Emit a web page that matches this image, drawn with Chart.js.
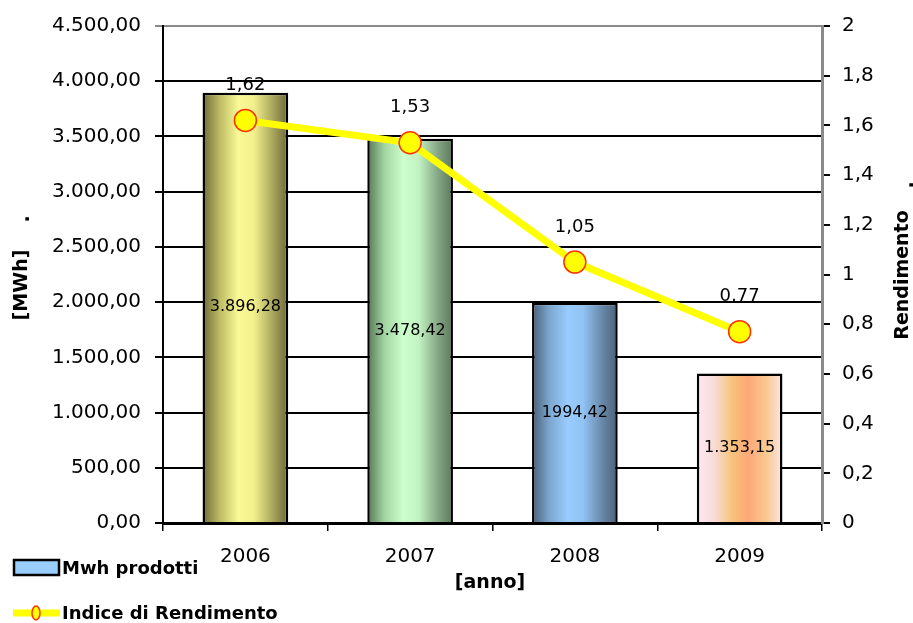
<!DOCTYPE html>
<html lang="it">
<head>
<meta charset="UTF-8">
<title>Mwh prodotti</title>
<script src="https://cdn.jsdelivr.net/npm/chart.js@4.4.0/dist/chart.umd.min.js"></script>
<style>
  body { margin: 0; background: #fff; }
</style>
</head>
<body>
<div style="width: 913px; height: 623px">
    <canvas id="chart" width="913" height="623"></canvas>
</div>
<script>
    const anni = ['2006', '2007', '2008', '2009'];
    const mwhProdotti = [3896.28, 3478.42, 1994.42, 1353.15];
    const etichetteMwh = ['3.896,28', '3.478,42', '1994,42', '1.353,15'];
    const indiceRendimento = [1.62, 1.53, 1.05, 0.77];

    // colori sfumati delle barre (bordo scuro, centro chiaro)
    const sfumature = [
        ['#6f6a38', '#bdbb64', '#fafa96', '#f2f08c', '#a9a65c', '#6c6838'],
        ['#587558', '#a2d4a2', '#ccffcc', '#c2f2c2', '#86a886', '#5a765a'],
        ['#485e76', '#7ca6ce', '#99ccff', '#90c2f2', '#6888a8', '#4a6078'],
        ['#fde8f2', '#f9dcd8', '#f6c27a', '#fca878', '#f8ca92', '#fde6e6']
    ];
    const stops = [0, 0.2, 0.42, 0.6, 0.82, 1];
    const BAR_PCT = 0.52;

    const FONT = "'DejaVu Sans', Arial, sans-serif";

    function fmtMigliaia(v) {
        const parts = v.toFixed(2).split('.');
        parts[0] = parts[0].replace(/\B(?=(\d{3})+(?!\d))/g, '.');
        return parts[0] + ',' + parts[1];
    }

    function sfumaBarra(c) {
        const chart = c.chart;
        const xs = chart.scales.x;
        if (!xs || !chart.chartArea || c.dataIndex === undefined) return '#99ccff';
        const cx = xs.getPixelForValue(c.dataIndex);
        const w = (xs.width / anni.length) * BAR_PCT;
        const g = chart.ctx.createLinearGradient(cx - w / 2, 0, cx + w / 2, 0);
        sfumature[c.dataIndex].forEach((col, k) => g.addColorStop(stops[k], col));
        return g;
    }

    const extra = {
        id: 'extra',
        afterDatasetsDraw(chart) {
            const ctx = chart.ctx;
            ctx.save();
            ctx.fillStyle = '#000';
            ctx.textAlign = 'center';
            ctx.textBaseline = 'middle';
            ctx.font = '16px ' + FONT;
            chart.getDatasetMeta(1).data.forEach((el, i) => {
                ctx.fillText(etichetteMwh[i], el.x, (el.y + el.base) / 2);
            });
            ctx.font = '18px ' + FONT;
            chart.getDatasetMeta(0).data.forEach((el, i) => {
                ctx.fillText(indiceRendimento[i].toFixed(2).replace('.', ','), el.x, el.y - 35);
            });
            ctx.restore();
        },
        afterDraw(chart) {
            const ctx = chart.ctx;
            ctx.save();
            ctx.fillStyle = '#000';
            ctx.textBaseline = 'middle';
            ctx.font = 'bold 19px ' + FONT;

            // titoli assi verticali
            ctx.save();
            ctx.translate(22, 285);
            ctx.rotate(-Math.PI / 2);
            ctx.textAlign = 'center';
            ctx.fillText('[MWh]', 0, 0);
            ctx.fillText('.', 66, 2);
            ctx.restore();

            ctx.save();
            ctx.translate(903, 275);
            ctx.rotate(-Math.PI / 2);
            ctx.textAlign = 'center';
            ctx.fillText('Rendimento', 0, 0);
            ctx.fillText('.', 90, 5);
            ctx.restore();

            ctx.textAlign = 'center';
            ctx.fillText('[anno]', 490, 583);

            // legenda
            ctx.fillStyle = '#99ccff';
            ctx.fillRect(14, 560, 45, 15);
            ctx.strokeStyle = '#000';
            ctx.lineWidth = 2.5;
            ctx.strokeRect(14, 560, 45, 15);

            ctx.strokeStyle = '#ffff00';
            ctx.lineWidth = 7;
            ctx.beginPath();
            ctx.moveTo(13, 613);
            ctx.lineTo(60, 613);
            ctx.stroke();
            ctx.fillStyle = '#ffff00';
            ctx.strokeStyle = '#ff3300';
            ctx.lineWidth = 1.5;
            ctx.beginPath();
            ctx.ellipse(36, 613, 4, 7, 0, 0, Math.PI * 2);
            ctx.fill();
            ctx.stroke();

            ctx.fillStyle = '#000';
            ctx.textAlign = 'left';
            ctx.font = 'bold 18px ' + FONT;
            ctx.fillText('Mwh prodotti', 62, 569);
            ctx.fillText('Indice di Rendimento', 62, 614);
            ctx.restore();
        }
    };

    new Chart(document.getElementById('chart'), {
        type: 'bar',
        data: {
            labels: anni,
            datasets: [
                {
                    type: 'line',
                    label: 'Indice di Rendimento',
                    data: indiceRendimento,
                    yAxisID: 'y1',
                    order: 0,
                    borderColor: '#ffff00',
                    borderWidth: 7,
                    pointRadius: 11,
                    pointBackgroundColor: '#ffff00',
                    pointBorderColor: '#ff3300',
                    pointBorderWidth: 1.5,
                    tension: 0
                },
                {
                    label: 'Mwh prodotti',
                    data: mwhProdotti,
                    yAxisID: 'y',
                    order: 1,
                    backgroundColor: sfumaBarra,
                    borderColor: '#000',
                    borderWidth: 2.5,
                    borderSkipped: 'bottom',
                    barPercentage: BAR_PCT,
                    categoryPercentage: 1
                }
            ]
        },
        options: {
            responsive: false,
            animation: false,
            layout: { padding: { top: 25, left: 0, right: 0, bottom: 0 } },
            plugins: {
                legend: { display: false },
                tooltip: { enabled: false }
            },
            scales: {
                x: {
                    offset: true,
                    grid: { offset: true, drawOnChartArea: false, tickLength: 8, color: '#000', lineWidth: 1.5 },
                    border: { color: '#000', width: 3 },
                    ticks: { color: '#000', font: { family: FONT, size: 20 }, padding: 14 },
                    afterFit(s) { s.height = 100; }
                },
                y: {
                    position: 'left',
                    min: 0,
                    max: 4500,
                    grid: {
                        color: c => (c.tick && c.tick.value === 4500 ? '#8a8a8a' : '#000'),
                        lineWidth: 2,
                        tickLength: 8
                    },
                    border: { color: '#000', width: 2 },
                    ticks: {
                        stepSize: 500,
                        color: '#000',
                        font: { family: FONT, size: 20 },
                        padding: 14,
                        callback: v => fmtMigliaia(v)
                    },
                    afterFit(s) { s.width = 163; }
                },
                y1: {
                    position: 'right',
                    min: 0,
                    max: 2,
                    grid: { drawOnChartArea: false, color: '#000', lineWidth: 2, tickLength: 8 },
                    border: { color: '#8a8a8a', width: 3 },
                    ticks: {
                        stepSize: 0.2,
                        color: '#000',
                        font: { family: FONT, size: 20 },
                        padding: 12,
                        callback: v => String(Math.round(v * 10) / 10).replace('.', ',')
                    },
                    afterFit(s) { s.width = 91; }
                }
            }
        },
        plugins: [extra]
    });
</script>
</body>
</html>
